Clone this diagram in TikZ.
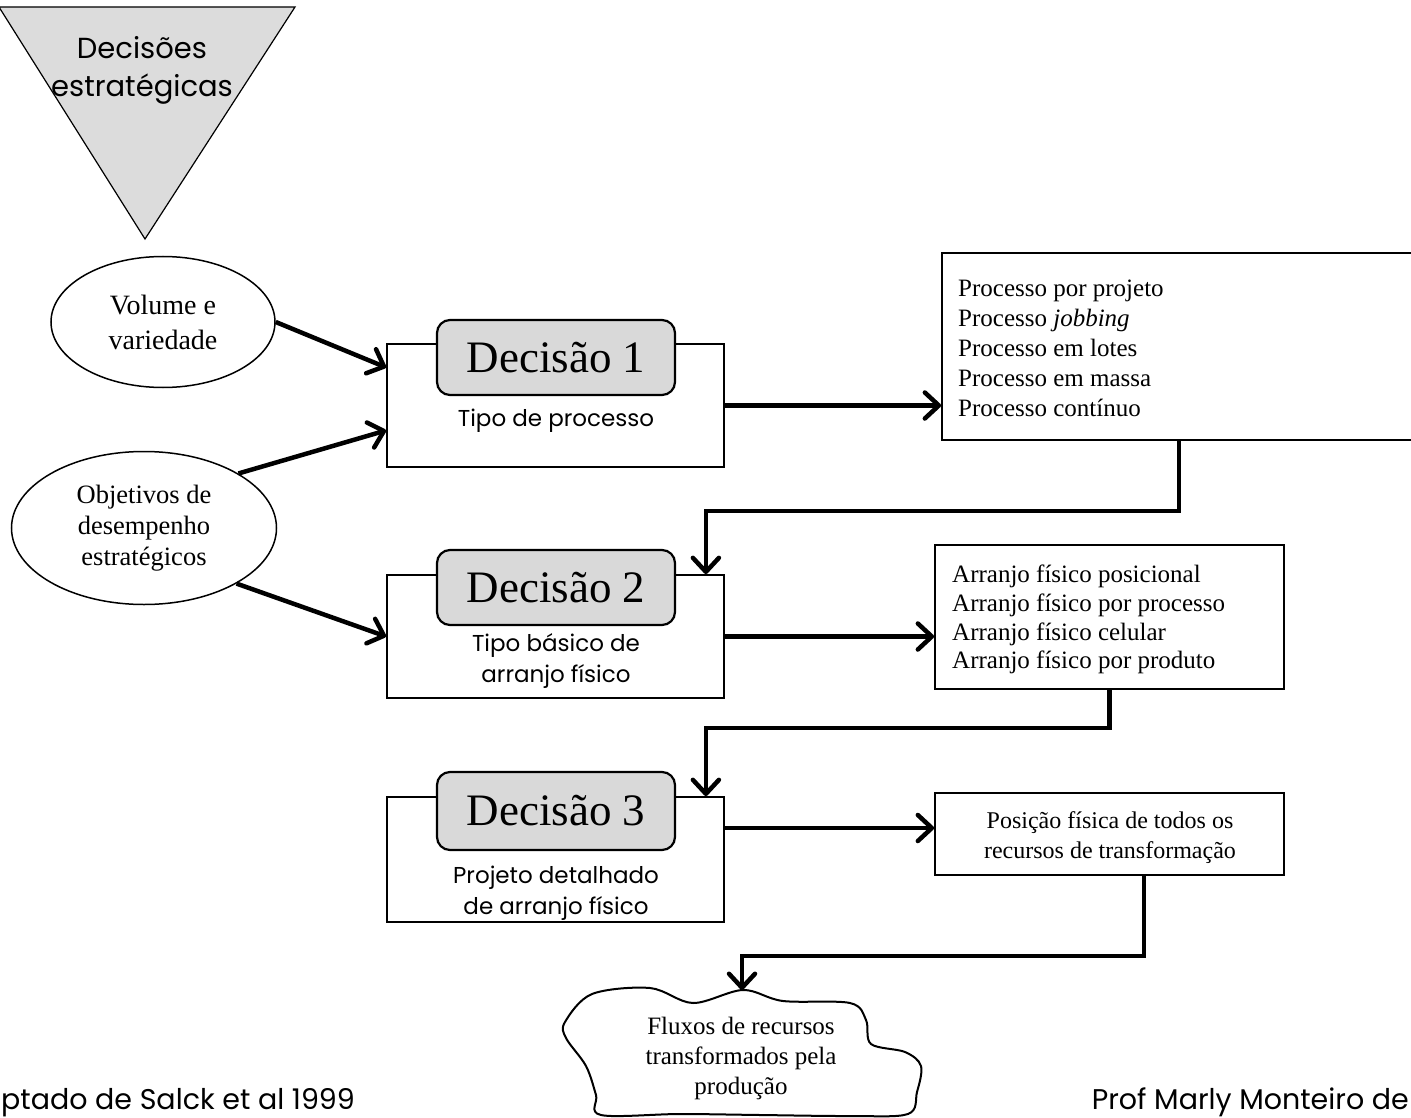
\documentclass[tikz,border=0pt]{standalone}
\usepackage{fontspec}
\setmainfont{Liberation Serif}
\newfontfamily\hand{Poppins}
\usetikzlibrary{arrows.meta,shapes.geometric,calc}
\definecolor{panelgray}{HTML}{D9D9D9}
\definecolor{trigray}{HTML}{DCDCDC}

\begin{document}
\begin{tikzpicture}[x=1pt,y=-1pt,
  arr/.style={line width=4.5pt,line join=miter,
    -{Straight Barb[length=14pt,width=26pt,line cap=round,line join=round]}},
  outerbox/.style={draw,line width=1.8pt,rectangle,inner sep=0pt},
  decbox/.style={draw,line width=2.2pt,fill=panelgray,rounded corners=13pt,
    minimum width=238pt,minimum height=75pt,inner sep=0pt,
    font=\fontsize{45}{50}\selectfont},
  sublabel/.style={align=center,inner sep=0pt,font=\hand\fontsize{23}{31}\selectfont},
  oval/.style={draw,ellipse,line width=1.5pt,inner sep=0pt,align=center},
  listbox/.style={draw,line width=1.8pt,rectangle,inner sep=0pt},
  listtext/.style={align=left,inner sep=0pt,anchor=north west},
  note/.style={inner sep=0pt,font=\hand\fontsize{28.5}{30}\selectfont}
]
\useasboundingbox (0,0) rectangle (1411,1118);

% strategic decisions funnel
\draw[fill=trigray,line width=1.2pt] (-1,7) -- (295,7) -- (145,239) -- cycle;
\node[align=center,inner sep=0pt,font=\hand\fontsize{29}{38}\selectfont]
  (strat) at (142,70) {Decisões\\estratégicas};

% inputs
\node[oval,minimum width=224pt,minimum height=131pt,
  font=\fontsize{28}{35}\selectfont] (e1) at (163,322) {Volume e\\variedade};
\node[oval,minimum width=265pt,minimum height=153pt,
  font=\fontsize{26.5}{31}\selectfont] (e2) at (144,528)
  {Objetivos de\\desempenho\\estratégicos};

% decision boxes
\node[outerbox,minimum width=337pt,minimum height=123pt] (b1) at (555.5,405.5) {};
\node[decbox] (d1) at (556,357.5) {Decisão 1};
\node[sublabel] (l1) at (556,421) {Tipo de processo};

\node[outerbox,minimum width=337pt,minimum height=123pt] (b2) at (555.5,636.5) {};
\node[decbox] (d2) at (556,587.5) {Decisão 2};
\node[sublabel] (l2) at (556,661) {Tipo básico de\\arranjo físico};

\node[outerbox,minimum width=337pt,minimum height=125pt] (b3) at (555.5,859.5) {};
\node[decbox,minimum height=78pt] (d3) at (556,811) {Decisão 3};
\node[sublabel] (l3) at (556,893) {Projeto detalhado\\de arranjo físico};

% outcome lists
\node[listbox,minimum width=488pt,minimum height=187pt] (r1) at (1186,346.5) {};
\node[listtext,font=\fontsize{25}{30}\selectfont] (r1t) at (958,280)
  {Processo por projeto\\Processo \textit{jobbing}\\Processo em lotes\\Processo em massa\\Processo contínuo};

\node[listbox,minimum width=349pt,minimum height=144pt] (r2) at (1109.5,617) {};
\node[listtext,font=\fontsize{25}{28.7}\selectfont] (r2t) at (952,565)
  {Arranjo físico posicional\\Arranjo físico por processo\\Arranjo físico celular\\Arranjo físico por produto};

\node[listbox,minimum width=349pt,minimum height=82pt] (r3) at (1109.5,834) {};
\node[align=center,inner sep=0pt,font=\fontsize{24}{30}\selectfont] (r3t) at (1110,838)
  {Posição física de todos os\\recursos de transformação};

% result cloud
\draw[line width=2pt] plot[smooth cycle,tension=0.55] coordinates {
  (565,1022) (592,994) (650,988) (693,1003) (743,990) (783,1001) (850,1003)
  (866,1020) (871,1044) (905,1052) (921,1066) (917,1092) (908,1114)
  (850,1116) (760,1115) (680,1114) (601,1115) (596,1095) (586,1066) (566,1038)};
\coordinate (cltop) at (742,990);
\node[align=center,inner sep=0pt,font=\fontsize{25}{30}\selectfont] (cl) at (741,1058)
  {Fluxos de recursos\\transformados pela\\produção};

% connectors
\draw[arr] (e1.east) -- ($(b1.north west)!0.195!(b1.south west)$);
\draw[arr] (e2.30) -- ($(b1.north west)!0.70!(b1.south west)$);
\draw[arr] (e2.-31) -- (b2.west);
\draw[arr] (b1.east) -- (b1.east -| r1.west);
\draw[arr] (b2.east) -- (b2.east -| r2.west);
\draw[arr] ([yshift=6pt]r3.west -| b3.east) -- ([yshift=6pt]r3.west);
\draw[arr] ([xshift=238pt]r1.south west) -- ++(0,70) -| ([xshift=-19pt]b2.north east);
\draw[arr] (r2.south) -- ++(0,38) -| ([xshift=-19pt]b3.north east);
\draw[arr] ([xshift=210pt]r3.south west) -- ++(0,80) -| (cltop);

% credits
\node[note,anchor=base west] (src) at (1,1109) {ptado de Salck et al 1999};
\node[note,anchor=base east] (auth) at (1409,1109) {Prof Marly Monteiro de};
\end{tikzpicture}
\end{document}
